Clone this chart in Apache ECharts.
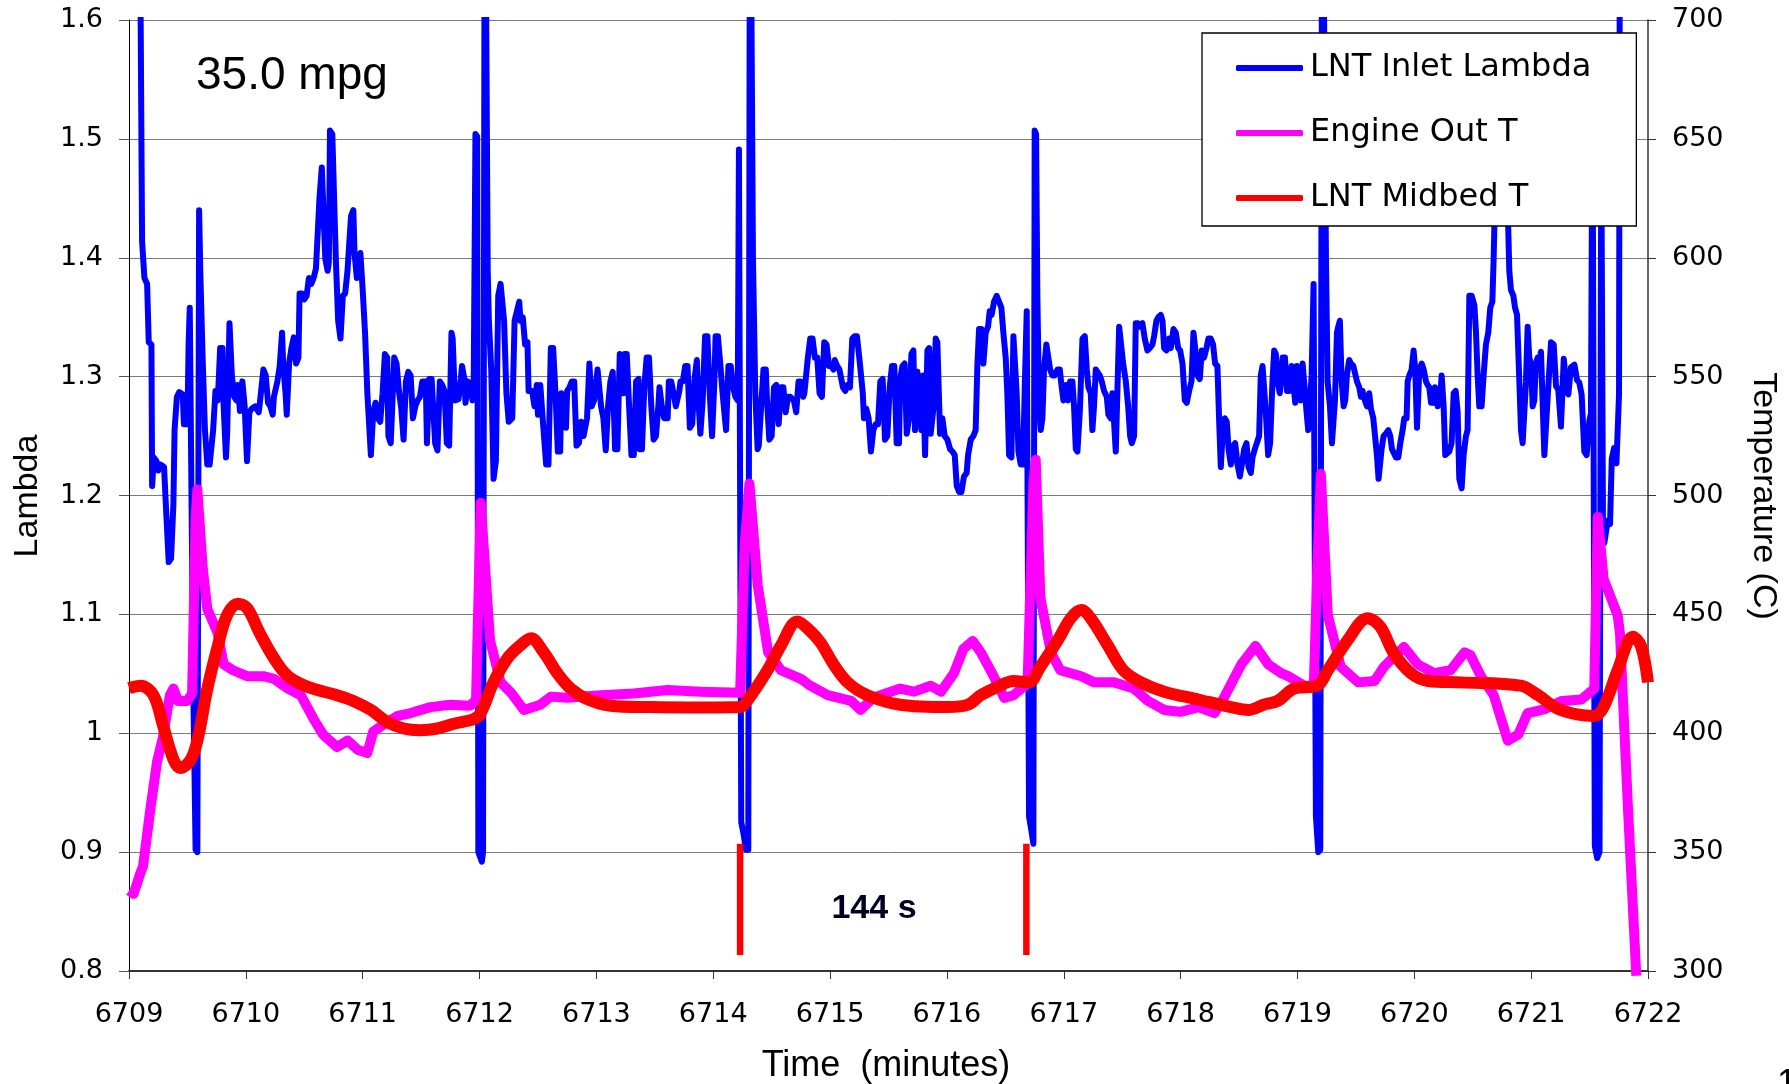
<!DOCTYPE html>
<html>
<head>
<meta charset="utf-8">
<script src="https://cdn.jsdelivr.net/npm/echarts@6/dist/echarts.min.js"></script>
<style>
html,body{margin:0;padding:0;background:#fff;}
#chart{width:1789px;height:1084px;}
</style>
</head>
<body>
<div id="chart"></div>
<script>
// ---- data (time in minutes) ----
const xTicks = {min: 6709, max: 6722, interval: 1};
const lambdaAxis = {min: 0.8, max: 1.6, interval: 0.1};
const tempAxis = {min: 300, max: 700, interval: 50};

const seriesNames = ['LNT Inlet Lambda', 'Engine Out T', 'LNT Midbed T'];

// LNT Inlet Lambda : [time, lambda]
const lambdaData = [
[6709.09,1.75],[6709.112,1.414],[6709.132,1.383],[6709.155,1.378],[6709.169,1.329],[6709.192,1.327],[6709.198,1.208],[6709.212,1.232],
[6709.235,1.229],[6709.25,1.221],[6709.27,1.226],[6709.30,1.224],[6709.32,1.183],[6709.34,1.144],[6709.36,1.147],[6709.38,1.193],
[6709.39,1.255],[6709.41,1.283],[6709.43,1.287],[6709.46,1.285],[6709.47,1.260],[6709.50,1.260],[6709.51,1.327],[6709.52,1.358],
[6709.535,1.358],[6709.55,1.039],[6709.57,0.902],[6709.585,0.900],[6709.60,1.44],[6709.61,1.389],[6709.63,1.316],[6709.65,1.255],
[6709.67,1.226],[6709.69,1.226],[6709.72,1.255],[6709.74,1.288],[6709.76,1.280],[6709.78,1.324],[6709.80,1.324],[6709.81,1.275],
[6709.83,1.232],[6709.84,1.252],[6709.86,1.345],[6709.88,1.301],[6709.90,1.283],[6709.92,1.280],[6709.93,1.293],[6709.95,1.271],
[6709.97,1.296],[6709.99,1.275],[6710.01,1.229],[6710.03,1.270],[6710.05,1.273],[6710.08,1.275],[6710.11,1.270],[6710.12,1.278],
[6710.15,1.306],[6710.17,1.301],[6710.19,1.278],[6710.21,1.275],[6710.23,1.268],[6710.24,1.283],[6710.27,1.296],[6710.29,1.309],
[6710.31,1.337],[6710.32,1.309],[6710.34,1.286],[6710.35,1.268],[6710.37,1.311],[6710.39,1.324],[6710.41,1.333],[6710.43,1.311],
[6710.45,1.316],[6710.46,1.370],[6710.48,1.370],[6710.50,1.365],[6710.52,1.368],[6710.54,1.383],[6710.56,1.378],[6710.58,1.383],
[6710.60,1.391],[6710.63,1.450],[6710.65,1.476],[6710.66,1.476],[6710.68,1.399],[6710.70,1.389],[6710.71,1.396],[6710.72,1.507],
[6710.74,1.504],[6710.77,1.399],[6710.79,1.347],[6710.81,1.332],[6710.83,1.368],[6710.85,1.370],[6710.87,1.389],[6710.90,1.435],
[6710.92,1.440],[6710.93,1.404],[6710.95,1.383],[6710.98,1.404],[6711.00,1.373],[6711.02,1.337],[6711.04,1.286],[6711.07,1.234],
[6711.09,1.270],[6711.11,1.278],[6711.13,1.265],[6711.15,1.262],[6711.17,1.286],[6711.19,1.319],[6711.21,1.316],[6711.22,1.250],
[6711.24,1.244],[6711.27,1.316],[6711.29,1.311],[6711.31,1.288],[6711.33,1.273],[6711.35,1.247],[6711.37,1.296],[6711.39,1.304],
[6711.41,1.301],[6711.43,1.265],[6711.45,1.275],[6711.47,1.280],[6711.49,1.283],[6711.51,1.296],[6711.54,1.296],[6711.55,1.244],
[6711.57,1.298],[6711.59,1.298],[6711.62,1.244],[6711.64,1.238],[6711.66,1.296],[6711.68,1.293],[6711.70,1.288],[6711.72,1.244],
[6711.74,1.242],[6711.76,1.337],[6711.77,1.332],[6711.79,1.280],[6711.82,1.281],[6711.84,1.298],[6711.85,1.309],[6711.87,1.298],
[6711.88,1.278],[6711.90,1.296],[6711.92,1.293],[6711.94,1.280],[6711.95,1.296],[6711.965,1.504],[6711.98,1.502],[6711.99,0.900],
[6712.02,0.892],[6712.03,0.900],[6712.045,1.8],[6712.07,1.389],[6712.08,1.347],[6712.10,1.306],[6712.12,1.214],[6712.14,1.229],
[6712.16,1.368],[6712.18,1.378],[6712.21,1.347],[6712.23,1.286],[6712.25,1.262],[6712.28,1.265],[6712.30,1.347],[6712.32,1.355],
[6712.34,1.363],[6712.35,1.347],[6712.37,1.350],[6712.39,1.327],[6712.41,1.329],[6712.42,1.288],[6712.45,1.288],[6712.47,1.275],
[6712.49,1.293],[6712.50,1.268],[6712.52,1.293],[6712.54,1.265],[6712.55,1.265],[6712.57,1.226],[6712.59,1.226],[6712.61,1.324],
[6712.63,1.324],[6712.65,1.286],[6712.67,1.237],[6712.69,1.237],[6712.70,1.286],[6712.72,1.283],[6712.74,1.257],[6712.75,1.288],
[6712.77,1.291],[6712.79,1.296],[6712.81,1.296],[6712.83,1.242],[6712.85,1.244],[6712.87,1.262],[6712.89,1.250],[6712.92,1.265],
[6712.94,1.311],[6712.95,1.311],[6712.96,1.275],[6712.98,1.280],[6713.01,1.306],[6713.02,1.306],[6713.04,1.275],[6713.06,1.265],
[6713.08,1.238],[6713.10,1.275],[6713.12,1.296],[6713.14,1.304],[6713.16,1.239],[6713.18,1.239],[6713.20,1.319],[6713.22,1.316],
[6713.23,1.286],[6713.24,1.319],[6713.26,1.319],[6713.28,1.275],[6713.30,1.234],[6713.32,1.234],[6713.34,1.296],[6713.36,1.298],
[6713.37,1.239],[6713.39,1.239],[6713.41,1.291],[6713.43,1.316],[6713.45,1.316],[6713.47,1.275],[6713.49,1.247],[6713.51,1.250],
[6713.53,1.275],[6713.54,1.291],[6713.56,1.275],[6713.58,1.265],[6713.61,1.265],[6713.62,1.296],[6713.64,1.296],[6713.66,1.286],
[6713.68,1.275],[6713.71,1.288],[6713.72,1.296],[6713.74,1.296],[6713.76,1.309],[6713.78,1.309],[6713.80,1.257],[6713.82,1.260],
[6713.84,1.298],[6713.86,1.314],[6713.87,1.286],[6713.89,1.252],[6713.91,1.280],[6713.93,1.334],[6713.95,1.334],[6713.97,1.286],
[6713.99,1.250],[6714.01,1.296],[6714.02,1.334],[6714.04,1.334],[6714.06,1.311],[6714.08,1.286],[6714.10,1.265],[6714.11,1.255],
[6714.13,1.309],[6714.15,1.309],[6714.17,1.291],[6714.19,1.283],[6714.21,1.280],[6714.22,1.491],[6714.23,1.491],[6714.24,0.925],
[6714.26,0.915],[6714.28,0.902],[6714.30,0.902],[6714.315,1.8],[6714.34,1.399],[6714.36,1.286],[6714.38,1.239],[6714.39,1.242],
[6714.41,1.275],[6714.43,1.306],[6714.45,1.306],[6714.46,1.280],[6714.48,1.247],[6714.50,1.250],[6714.52,1.291],[6714.54,1.293],
[6714.56,1.260],[6714.58,1.291],[6714.60,1.291],[6714.62,1.270],[6714.64,1.283],[6714.66,1.283],[6714.69,1.280],[6714.71,1.270],
[6714.73,1.296],[6714.75,1.296],[6714.77,1.283],[6714.78,1.286],[6714.81,1.316],[6714.83,1.332],[6714.85,1.332],[6714.87,1.316],
[6714.89,1.316],[6714.91,1.286],[6714.93,1.283],[6714.95,1.329],[6714.97,1.327],[6714.99,1.309],[6715.01,1.309],[6715.03,1.306],
[6715.04,1.314],[6715.06,1.309],[6715.08,1.306],[6715.11,1.291],[6715.13,1.288],[6715.15,1.293],[6715.17,1.291],[6715.19,1.332],
[6715.21,1.334],[6715.23,1.334],[6715.25,1.316],[6715.28,1.286],[6715.29,1.265],[6715.31,1.273],[6715.33,1.265],[6715.35,1.237],
[6715.37,1.255],[6715.39,1.260],[6715.41,1.260],[6715.43,1.296],[6715.45,1.298],[6715.47,1.247],[6715.49,1.250],[6715.51,1.291],
[6715.53,1.309],[6715.55,1.309],[6715.57,1.244],[6715.59,1.244],[6715.60,1.298],
[6715.619,1.309],[6715.638,1.311],[6715.656,1.252],[6715.676,1.265],[6715.696,1.319],[6715.713,1.322],[6715.727,1.255],[6715.747,1.304],
[6715.761,1.304],[6715.781,1.255],[6715.795,1.301],[6715.813,1.234],[6715.833,1.322],[6715.847,1.324],[6715.861,1.252],[6715.884,1.273],
[6715.904,1.332],[6715.918,1.329],[6715.941,1.252],[6715.961,1.265],[6715.981,1.250],[6716.004,1.247],[6716.027,1.239],[6716.047,1.237],
[6716.067,1.234],[6716.084,1.208],[6716.104,1.203],[6716.124,1.203],[6716.146,1.216],[6716.169,1.219],[6716.181,1.234],[6716.204,1.247],
[6716.226,1.250],[6716.246,1.255],[6716.261,1.311],[6716.275,1.340],[6716.295,1.340],[6716.312,1.311],[6716.332,1.337],[6716.352,1.342],
[6716.366,1.355],[6716.383,1.352],[6716.403,1.363],[6716.426,1.368],[6716.446,1.363],[6716.466,1.358],[6716.483,1.337],[6716.503,1.316],
[6716.517,1.286],[6716.532,1.234],[6716.552,1.232],[6716.569,1.334],[6716.583,1.334],[6716.597,1.286],[6716.612,1.237],[6716.632,1.226],
[6716.652,1.226],[6716.666,1.291],[6716.683,1.355],[6716.697,1.355],[6716.703,0.930],[6716.723,0.918],[6716.740,0.907],[6716.751,1.507],
[6716.763,1.504],[6716.774,1.368],[6716.789,1.275],[6716.803,1.255],[6716.817,1.265],[6716.831,1.306],[6716.851,1.327],[6716.866,1.327],
[6716.883,1.306],[6716.903,1.301],[6716.923,1.301],[6716.946,1.306],[6716.966,1.306],[6716.980,1.293],[6716.997,1.280],[6717.017,1.293],
[6717.037,1.280],[6717.054,1.296],[6717.074,1.296],[6717.088,1.275],[6717.103,1.239],[6717.117,1.237],[6717.137,1.270],[6717.160,1.332],
[6717.180,1.334],[6717.197,1.306],[6717.211,1.291],[6717.231,1.286],[6717.245,1.255],[6717.259,1.275],[6717.274,1.306],[6717.288,1.304],
[6717.308,1.301],[6717.325,1.296],[6717.345,1.288],[6717.368,1.283],[6717.382,1.268],[6717.402,1.265],[6717.416,1.286],[6717.431,1.286],
[6717.445,1.237],[6717.459,1.237],[6717.474,1.342],[6717.488,1.342],[6717.508,1.311],[6717.531,1.296],[6717.551,1.275],[6717.568,1.250],
[6717.582,1.244],[6717.602,1.250],[6717.616,1.345],[6717.636,1.345],[6717.653,1.342],[6717.673,1.345],[6717.693,1.332],[6717.716,1.322],
[6717.736,1.324],[6717.759,1.327],[6717.773,1.334],[6717.793,1.347],[6717.810,1.350],[6717.830,1.352],[6717.845,1.347],[6717.859,1.324],
[6717.879,1.322],[6717.902,1.332],[6717.916,1.324],[6717.939,1.340],[6717.959,1.337],[6717.979,1.324],[6717.996,1.322],[6718.016,1.311],
[6718.036,1.280],[6718.053,1.278],[6718.073,1.288],[6718.093,1.296],[6718.110,1.337],[6718.130,1.319],[6718.144,1.301],[6718.164,1.298],
[6718.181,1.322],[6718.201,1.316],[6718.221,1.324],[6718.238,1.332],[6718.258,1.332],[6718.278,1.327],[6718.295,1.311],[6718.315,1.309],
[6718.330,1.262],[6718.344,1.224],[6718.358,1.250],[6718.378,1.265],[6718.395,1.262],[6718.410,1.239],[6718.430,1.226],[6718.450,1.242],
[6718.467,1.244],[6718.487,1.226],[6718.507,1.216],[6718.524,1.226],[6718.544,1.239],[6718.564,1.244],[6718.581,1.224],[6718.601,1.219],
[6718.615,1.232],[6718.635,1.239],[6718.652,1.239],[6718.672,1.250],[6718.686,1.301],[6718.701,1.309],[6718.715,1.309],[6718.729,1.270],
[6718.749,1.234],[6718.766,1.244],[6718.786,1.296],[6718.801,1.322],[6718.815,1.319],[6718.829,1.296],[6718.849,1.286],[6718.858,1.296],
[6718.873,1.316],[6718.893,1.316],[6718.910,1.288],[6718.930,1.288],[6718.950,1.309],[6718.964,1.309],[6718.981,1.278],[6718.995,1.309],
[6719.015,1.306],[6719.029,1.280],[6719.044,1.311],[6719.058,1.311],[6719.078,1.270],[6719.092,1.255],[6719.109,1.255],[6719.121,1.301],
[6719.138,1.378],[6719.149,1.378],[6719.158,0.930],[6719.178,0.900],[6719.195,0.902],[6719.212,1.8],[6719.244,1.399],[6719.258,1.296],
[6719.278,1.275],[6719.295,1.244],[6719.309,1.244],[6719.321,1.280],[6719.338,1.337],[6719.349,1.342],[6719.363,1.347],[6719.378,1.296],
[6719.395,1.275],[6719.409,1.280],[6719.423,1.301],[6719.443,1.314],[6719.458,1.311],[6719.478,1.309],[6719.495,1.309],[6719.509,1.296],
[6719.529,1.291],[6719.543,1.283],[6719.557,1.288],[6719.577,1.280],[6719.595,1.275],[6719.614,1.286],[6719.629,1.273],[6719.649,1.265],
[6719.666,1.265],[6719.680,1.234],[6719.694,1.214],[6719.709,1.214],[6719.720,1.239],[6719.737,1.250],[6719.757,1.252],[6719.777,1.255],
[6719.794,1.250],[6719.809,1.239],[6719.823,1.239],[6719.843,1.232],[6719.863,1.232],[6719.880,1.244],[6719.900,1.255],[6719.914,1.265],
[6719.934,1.265],[6719.943,1.296],[6719.957,1.301],[6719.977,1.306],[6719.994,1.322],[6720.008,1.306],[6720.023,1.257],[6720.043,1.306],
[6720.063,1.311],[6720.080,1.306],[6720.100,1.296],[6720.114,1.293],[6720.128,1.291],[6720.143,1.278],[6720.163,1.278],[6720.177,1.291],
[6720.200,1.275],[6720.220,1.280],[6720.234,1.301],[6720.251,1.275],[6720.265,1.234],[6720.279,1.234],[6720.299,1.237],[6720.319,1.244],
[6720.337,1.286],[6720.354,1.288],[6720.371,1.270],[6720.385,1.214],[6720.405,1.206],[6720.422,1.234],[6720.442,1.250],[6720.456,1.255],
[6720.471,1.368],[6720.491,1.368],[6720.514,1.360],[6720.528,1.337],[6720.542,1.301],[6720.556,1.275],[6720.576,1.275],[6720.593,1.301],
[6720.613,1.327],[6720.633,1.337],[6720.650,1.358],[6720.668,1.363],[6720.679,1.399],[6720.693,1.46],[6720.727,1.52],[6720.785,1.50],
[6720.813,1.389],[6720.827,1.373],[6720.848,1.368],[6720.862,1.358],[6720.879,1.352],[6720.899,1.296],[6720.913,1.255],[6720.927,1.244],
[6720.942,1.244],[6720.956,1.296],[6720.970,1.342],[6720.984,1.316],[6720.999,1.311],[6721.013,1.275],[6721.027,1.280],[6721.041,1.311],
[6721.056,1.316],[6721.076,1.316],[6721.084,1.321],[6721.113,1.234],[6721.141,1.282],[6721.170,1.329],[6721.193,1.327],[6721.213,1.292],
[6721.232,1.289],[6721.255,1.258],[6721.279,1.315],[6721.298,1.295],[6721.318,1.285],[6721.341,1.308],[6721.370,1.310],[6721.393,1.297],
[6721.412,1.295],[6721.432,1.285],[6721.455,1.237],[6721.475,1.234],[6721.498,1.263],[6721.512,1.269],[6721.525,1.55],[6721.545,0.905],
[6721.565,0.895],[6721.585,0.900],[6721.600,1.50],[6721.615,1.17],[6721.626,1.160],[6721.655,1.179],[6721.675,1.176],[6721.690,1.231],
[6721.710,1.240],[6721.730,1.227],[6721.745,1.226],[6721.752,1.285],[6721.760,1.75]
];

// Engine Out T : [time, degC]
const engineOutData = [
[6709.00,333.8],[6709.04,332.5],[6709.10,341.6],[6709.12,344],[6709.18,367],[6709.24,388],[6709.29,398.2],[6709.35,416],
[6709.38,418.8],[6709.42,413.6],[6709.50,413.6],[6709.54,416.7],[6709.57,490],[6709.585,502.5],[6709.63,470],[6709.67,452.3],
[6709.76,442],[6709.81,429],[6709.89,426.5],[6710.01,424],[6710.15,424],[6710.24,422.9],[6710.36,418.8],[6710.47,416],
[6710.58,406],[6710.66,399.5],[6710.78,394.2],[6710.87,396.9],[6710.96,393],[6711.04,391.7],[6711.09,400.7],[6711.21,404.7],
[6711.30,407.3],[6711.41,408.5],[6711.58,411],[6711.75,412],[6711.92,411.6],[6711.97,414],[6712.01,497],[6712.09,439],
[6712.18,421.4],[6712.27,417],[6712.38,409.8],[6712.52,412],[6712.61,415.4],[6712.75,414.9],[6713.04,416],[6713.32,416.7],
[6713.61,418.2],[6713.89,417.5],[6714.23,417],[6714.27,480],[6714.31,505],[6714.38,462.6],[6714.47,434],[6714.58,426.5],
[6714.75,422.9],[6714.83,420],[6714.98,416],[6715.18,413.6],[6715.26,409.8],[6715.37,414.9],[6715.60,418.8],[6715.72,417.5],
[6715.86,420],[6715.95,417.5],[6716.06,425.3],[6716.14,435.4],[6716.22,438.8],[6716.29,434],[6716.40,424],[6716.49,414.9],
[6716.57,416],[6716.69,421],[6716.74,505],[6716.76,515],[6716.80,457],[6716.89,434],[6716.97,426.5],[6717.15,424],
[6717.26,421.4],[6717.43,421.4],[6717.60,418.8],[6717.72,413.6],[6717.86,409.8],[6718.00,409],[6718.15,411],[6718.29,408.5],
[6718.37,414.9],[6718.52,429],[6718.64,436.7],[6718.75,429],[6718.86,425.3],[6718.92,424],[6719.06,420],[6719.14,420],
[6719.17,470],[6719.20,509],[6719.26,449.7],[6719.37,428],[6719.52,421.4],[6719.66,422],[6719.74,428],[6719.91,436.3],
[6720.03,429],[6720.17,425.3],[6720.31,426.5],[6720.43,434],[6720.48,432.9],[6720.57,424],[6720.68,416],[6720.80,396.9],
[6720.89,399.5],[6720.97,408.5],[6721.11,410],[6721.26,413.6],[6721.43,414.2],[6721.51,417.5],[6721.54,418.8],[6721.57,491],
[6721.62,465],[6721.74,449.7],[6721.76,442],[6721.83,367],[6721.90,298]
];

// LNT Midbed T : [time, degC]
const midbedData = [
[6709.00,419],[6709.10,420],[6709.21,416],[6709.29,403.5],[6709.38,389],[6709.44,385.4],[6709.53,389],[6709.59,398],
[6709.67,418.6],[6709.76,436.7],[6709.84,449.8],[6709.93,454.5],[6710.01,452.7],[6710.12,442],[6710.24,431.6],[6710.36,424],
[6710.53,419.5],[6710.78,416],[6710.92,413.6],[6711.07,409.8],[6711.21,404.7],[6711.35,402],[6711.49,401.3],[6711.64,402],
[6711.78,404],[6711.95,406],[6712.01,408.5],[6712.12,421.5],[6712.24,431.6],[6712.35,437],[6712.44,440],[6712.55,434],
[6712.67,425],[6712.78,418.8],[6712.93,414.2],[6713.12,411.6],[6713.46,411],[6713.89,410.8],[6714.23,411],[6714.29,413.6],
[6714.47,427],[6714.58,437],[6714.72,447],[6714.83,443],[6714.92,438],[6715.03,429],[6715.15,421.4],[6715.32,416],
[6715.60,412],[6716.01,411],[6716.18,412],[6716.29,416],[6716.43,419.5],[6716.57,422],[6716.70,421.4],[6716.80,428],
[6716.95,439.2],[6717.06,448.4],[6717.15,451.8],[6717.23,448.4],[6717.38,436.7],[6717.51,426.5],[6717.66,421.4],[6717.86,417.5],
[6718.15,414.2],[6718.43,411],[6718.58,409.8],[6718.71,412],[6718.83,413.6],[6718.97,418.8],[6719.17,420],[6719.26,426.5],
[6719.43,439.2],[6719.60,448.4],[6719.71,444.7],[6719.82,434],[6719.97,425.3],[6720.12,422],[6720.40,421.4],[6720.91,420],
[6721.06,416],[6721.25,409.8],[6721.54,407.3],[6721.62,411],[6721.74,426.5],[6721.87,440.6],[6721.94,436.7],[6722.00,421.4]
];

// 144 s cycle markers (time, lambda range)
const markerTimes = [6714.23, 6716.68];
const markerLambda = [0.8135, 0.907];

const annotations = {mpg: '35.0 mpg', period: '144 s'};
const axisTitles = {x: 'Time  (minutes)', yLeft: 'Lambda', yRight: 'Temperature (C)'};

// ---- chart ----
const FONT = "'Liberation Sans', Arial, Helvetica, sans-serif";
const TICKFONT = "'DejaVu Sans', 'Liberation Sans', Arial, sans-serif";
const chart = echarts.init(document.getElementById('chart'), null, {renderer: 'canvas'});

const markerSeries = markerTimes.map(t => ({
  type: 'line', name: 'marker' + t, yAxisIndex: 0, silent: true,
  data: markerLambda.map(v => [t, v]),
  symbol: 'none', lineStyle: {color: '#ff0000', width: 6.5, cap: 'butt'}, z: 6
}));

const legendColors = ['#0000ff', '#ff00ff', '#ff0000'];

chart.setOption({
  animation: false,
  backgroundColor: '#ffffff',
  grid: {left: 129, right: 141, top: 20, bottom: 113, containLabel: false},
  legend: {
    data: seriesNames.map((n, i) => ({name: n, icon: 'roundRect', itemStyle: {color: legendColors[i], borderWidth: 0}})),
    orient: 'vertical',
    left: 1202, top: 33,
    itemWidth: 67, itemHeight: 6, itemGap: 31,
    padding: [18, 45, 11, 34],
    backgroundColor: '#ffffff',
    borderColor: '#000000', borderWidth: 1.3,
    textStyle: {fontFamily: TICKFONT, fontSize: 32, color: '#000', lineHeight: 34, padding: [0, 0, 0, 2]},
    selectedMode: false
  },
  xAxis: {
    type: 'value', min: xTicks.min, max: xTicks.max, interval: xTicks.interval,
    axisLine: {show: true, onZero: false, lineStyle: {color: '#333', width: 2}},
    axisTick: {show: true, inside: false, length: 8, lineStyle: {color: '#333', width: 1}},
    axisLabel: {fontFamily: TICKFONT, fontSize: 27, color: '#000', margin: 30, formatter: v => String(v)},
    splitLine: {show: false}
  },
  yAxis: [{
    type: 'value', min: lambdaAxis.min, max: lambdaAxis.max, interval: lambdaAxis.interval,
    position: 'left',
    axisLine: {show: true, lineStyle: {color: '#000', width: 1}},
    axisTick: {show: true, length: 10, lineStyle: {color: '#555', width: 1}},
    axisLabel: {fontFamily: TICKFONT, fontSize: 27, color: '#000', margin: 26, formatter: v => String(Math.round(v * 10) / 10)},
    splitLine: {show: true, lineStyle: {color: '#7a7a7a', width: 1}}
  }, {
    type: 'value', min: tempAxis.min, max: tempAxis.max, interval: tempAxis.interval,
    position: 'right',
    axisLine: {show: true, lineStyle: {color: '#333', width: 1.5}},
    axisTick: {show: true, length: 8, lineStyle: {color: '#333', width: 1}},
    axisLabel: {fontFamily: TICKFONT, fontSize: 27, color: '#000', margin: 24},
    splitLine: {show: false}
  }],
  graphic: [
    {type: 'text', left: 196, top: 53, style: {text: annotations.mpg, font: '46px ' + FONT, fill: '#000'}},
    {type: 'text', x: 874, y: 909, style: {text: annotations.period, font: 'bold 34px ' + FONT, fill: '#000022', align: 'center', verticalAlign: 'middle'}},
    {type: 'text', x: 28, y: 496, rotation: Math.PI / 2, style: {text: axisTitles.yLeft, font: '34px ' + FONT, fill: '#000', align: 'center', verticalAlign: 'middle'}},
    {type: 'text', x: 1763, y: 496, rotation: -Math.PI / 2, style: {text: axisTitles.yRight, font: '34px ' + FONT, fill: '#000', align: 'center', verticalAlign: 'middle'}},
    {type: 'text', x: 886, y: 1066, style: {text: axisTitles.x, font: '36px ' + FONT, fill: '#000', align: 'center', verticalAlign: 'middle'}},
    {type: 'text', x: 1777, y: 1067, style: {text: '1', font: '36px ' + FONT, fill: '#000', align: 'left', verticalAlign: 'top'}}
  ],
  series: [{
    type: 'line', name: seriesNames[0], yAxisIndex: 0, data: lambdaData,
    symbol: 'none', showSymbol: false, clip: true,
    lineStyle: {color: '#0000ff', width: 6, join: 'round'}, itemStyle: {color: '#0000ff'}, z: 3
  }, {
    type: 'line', name: seriesNames[1], yAxisIndex: 1, data: engineOutData,
    symbol: 'none', showSymbol: false, clip: true,
    lineStyle: {color: '#ff00ff', width: 10, join: 'round'}, itemStyle: {color: '#ff00ff'}, z: 4
  }, {
    type: 'line', name: seriesNames[2], yAxisIndex: 1, data: midbedData,
    symbol: 'none', showSymbol: false, clip: true, smooth: 0.35,
    lineStyle: {color: '#ff0000', width: 12, join: 'round'}, itemStyle: {color: '#ff0000'}, z: 5
  }].concat(markerSeries)
});
</script>
</body>
</html>
